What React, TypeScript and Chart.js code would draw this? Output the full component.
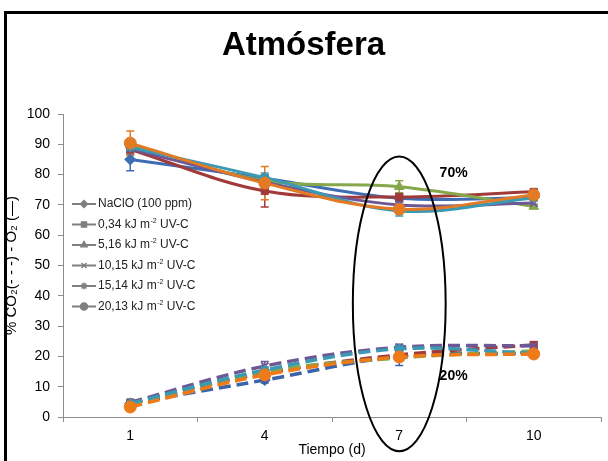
import React, { useEffect, useRef } from 'react';
import { Chart, registerables } from 'chart.js';
import { drawPoint } from 'chart.js/helpers';

Chart.register(...registerables);

// ---------------- data ----------------
const days = ['1', '4', '7', '10'];

const treatmentLabels = [
  'NaClO (100 ppm)',
  '0,34 kJ m^-2 UV-C',
  '5,16 kJ m^-2 UV-C',
  '10,15 kJ m^-2 UV-C',
  '15,14 kJ m^-2 UV-C',
  '20,13 kJ m^-2 UV-C',
];

// O2 (%) – solid lines
const o2NaClO = [85.0, 78.8, 72.2, 72.4];
const o2Uv034 = [88.3, 74.6, 72.6, 74.3];
const o2Uv516 = [90.0, 78.0, 76.0, 69.5];
const o2Uv1015 = [88.5, 77.5, 70.0, 70.6];
const o2Uv1514 = [89.0, 79.0, 68.0, 72.3];
const o2Uv2013 = [90.4, 77.2, 68.6, 73.3];

// O2 error bars (±)
const o2ErrNaClO = [3.7, 1.0, 1.0, 0.8];
const o2ErrUv034 = [1.5, 5.3, 1.2, 0.8];
const o2ErrUv516 = [1.5, 1.5, 2.0, 0.8];
const o2ErrUv1015 = [1.2, 1.5, 1.0, 0.8];
const o2ErrUv1514 = [1.2, 1.5, 1.7, 0.8];
const o2ErrUv2013 = [4.0, 5.5, 1.2, 0.8];

// CO2 (%) – dashed lines
const co2NaClO = [4.5, 12.2, 20.0, 21.0];
const co2Uv034 = [4.8, 14.5, 20.5, 23.8];
const co2Uv516 = [4.3, 15.0, 19.5, 21.8];
const co2Uv1015 = [4.8, 16.8, 23.0, 23.5];
const co2Uv1514 = [4.5, 15.5, 22.5, 21.0];
const co2Uv2013 = [3.3, 13.9, 19.8, 20.8];

// CO2 error bars (±)
const co2ErrNaClO = [0.5, 1.0, 3.0, 0.8];
const co2ErrUv034 = [0.8, 1.0, 1.0, 1.0];
const co2ErrUv516 = [0.5, 1.0, 1.0, 0.8];
const co2ErrUv1015 = [0.5, 1.5, 1.0, 1.0];
const co2ErrUv1514 = [0.5, 1.0, 1.2, 1.0];
const co2ErrUv2013 = [0.5, 1.0, 1.0, 0.8];

const yTicksMin = 0;
const yTicksMax = 100;
const yTicksStep = 10;

const annotation70 = '70%';
const annotation20 = '20%';

// ---------------- styles ----------------
const FONT = "'Liberation Sans', Arial, sans-serif";
const colors = ['#3f6db4', '#a13b3a', '#86a84a', '#6e5795', '#3a9ab4', '#e37a24'];
const dashColors = ['#3a64a8', '#a13b3a', '#86a84a', '#6e5795', '#3a9ab4', '#ee7a18'];
const pointStyles = ['rectRot', 'rect', 'triangle', 'crossRot', 'star', 'circle'];
const pointRadii = [5.5, 5, 5.5, 5, 5, 6];

const o2Series = [o2NaClO, o2Uv034, o2Uv516, o2Uv1015, o2Uv1514, o2Uv2013];
const o2Errors = [o2ErrNaClO, o2ErrUv034, o2ErrUv516, o2ErrUv1015, o2ErrUv1514, o2ErrUv2013];
const co2Series = [co2NaClO, co2Uv034, co2Uv516, co2Uv1015, co2Uv1514, co2Uv2013];
const co2Errors = [co2ErrNaClO, co2ErrUv034, co2ErrUv516, co2ErrUv1015, co2ErrUv1514, co2ErrUv2013];

function drawRichLabel(ctx: CanvasRenderingContext2D, text: string, x: number, y: number, size: number) {
  const parts = text.split('^');
  ctx.textBaseline = 'middle';
  ctx.textAlign = 'left';
  let cx = x;
  ctx.font = `${size}px ${FONT}`;
  ctx.fillText(parts[0], cx, y);
  cx += ctx.measureText(parts[0]).width;
  if (parts.length > 1) {
    const m = parts[1].match(/^(-?\d+)(.*)$/);
    const sup = m ? m[1] : '';
    const rest = m ? m[2] : parts[1];
    ctx.font = `${Math.round(size * 0.62)}px ${FONT}`;
    ctx.fillText(sup, cx + 0.5, y - size * 0.32);
    cx += ctx.measureText(sup).width + 0.5;
    ctx.font = `${size}px ${FONT}`;
    ctx.fillText(rest, cx, y);
  }
}

const decorPlugin = {
  id: 'decor',
  beforeDatasetsDraw(chart: any) {
    const { ctx } = chart;
    const xs = chart.scales.x;
    const ys = chart.scales.y;
    ctx.save();
    ctx.lineWidth = 1.5;
    const cap = 4;
    const drawErr = (vals: number[], errs: number[], color: string) => {
      ctx.strokeStyle = color;
      vals.forEach((v, i) => {
        const e = errs[i];
        if (!e) return;
        const px = xs.getPixelForValue(i);
        const top = ys.getPixelForValue(v + e);
        const bot = ys.getPixelForValue(v - e);
        ctx.beginPath();
        ctx.moveTo(px, top);
        ctx.lineTo(px, bot);
        ctx.moveTo(px - cap, top);
        ctx.lineTo(px + cap, top);
        ctx.moveTo(px - cap, bot);
        ctx.lineTo(px + cap, bot);
        ctx.stroke();
      });
    };
    o2Series.forEach((s, i) => drawErr(s, o2Errors[i], colors[i]));
    co2Series.forEach((s, i) => drawErr(s, co2Errors[i], dashColors[i]));
    ctx.restore();
  },
  afterDraw(chart: any) {
    const { ctx, chartArea } = chart;
    const xs = chart.scales.x;
    const ys = chart.scales.y;
    ctx.save();
    // legend
    const legLeft = chartArea.left + 9;
    treatmentLabels.forEach((lab, i) => {
      const y = chartArea.top + 90 + i * 20.5;
      ctx.strokeStyle = '#7f7f7f';
      ctx.lineWidth = 2;
      ctx.beginPath();
      ctx.moveTo(legLeft, y);
      ctx.lineTo(legLeft + 24, y);
      ctx.stroke();
      ctx.fillStyle = '#7f7f7f';
      ctx.strokeStyle = '#7f7f7f';
      ctx.lineWidth = 1.5;
      drawPoint(ctx, { pointStyle: pointStyles[i] as any, radius: 3.5, rotation: 0, borderWidth: 1.5 }, legLeft + 12, y);
      ctx.fillStyle = '#222';
      drawRichLabel(ctx, lab, legLeft + 26, y, 12);
    });
    // ellipse around day 7
    const cx = xs.getPixelForValue(2);
    const top = ys.getPixelForValue(86);
    const bot = ys.getPixelForValue(-11.3);
    const rx = (xs.getPixelForValue(3) - xs.getPixelForValue(2)) * 0.345;
    ctx.strokeStyle = '#000';
    ctx.lineWidth = 2;
    ctx.beginPath();
    ctx.ellipse(cx, (top + bot) / 2, rx, (bot - top) / 2, 0, 0, Math.PI * 2);
    ctx.stroke();
    // annotations
    ctx.fillStyle = '#000';
    ctx.font = `bold 14px ${FONT}`;
    ctx.textAlign = 'left';
    ctx.textBaseline = 'middle';
    const ax = xs.getPixelForValue(2) + (xs.getPixelForValue(3) - xs.getPixelForValue(2)) * 0.3;
    ctx.fillText(annotation70, ax, ys.getPixelForValue(80.5));
    ctx.fillText(annotation20, ax, ys.getPixelForValue(13.5));
    ctx.restore();
  },
};

export default function App() {
  const ref = useRef<HTMLCanvasElement | null>(null);
  useEffect(() => {
    document.body.style.margin = '0';
    const datasets: any[] = [];
    o2Series.forEach((s, i) => {
      datasets.push({
        label: 'O2 ' + treatmentLabels[i],
        data: s,
        borderColor: colors[i],
        backgroundColor: colors[i],
        borderWidth: 3,
        tension: 0.35,
        pointStyle: pointStyles[i],
        pointRadius: pointRadii[i],
        pointBorderWidth: pointStyles[i] === 'crossRot' || pointStyles[i] === 'star' ? 2 : 1,
        pointBackgroundColor: colors[i],
        pointBorderColor: colors[i],
        order: 10 - i,
      });
    });
    co2Series.forEach((s, i) => {
      datasets.push({
        label: 'CO2 ' + treatmentLabels[i],
        data: s,
        borderColor: dashColors[i],
        backgroundColor: dashColors[i],
        borderWidth: 3.5,
        borderDash: [12, 6],
        tension: 0.35,
        pointStyle: pointStyles[i],
        pointRadius: pointRadii[i],
        pointBorderWidth: pointStyles[i] === 'crossRot' || pointStyles[i] === 'star' ? 2 : 1,
        pointBackgroundColor: dashColors[i],
        pointBorderColor: dashColors[i],
        order: 20 - i,
      });
    });
    const chart = new Chart(ref.current as HTMLCanvasElement, {
      type: 'line',
      data: { labels: days, datasets },
      options: {
        animation: false,
        responsive: false,
        maintainAspectRatio: false,
        layout: { padding: { top: 0, left: 0, right: 1, bottom: 0 } },
        plugins: {
          legend: { display: false },
          tooltip: { enabled: false },
          title: {
            display: true,
            text: 'Atmósfera',
            color: '#000',
            font: { family: FONT, size: 33, weight: 'bold', lineHeight: 1.2 },
            padding: { top: 26, bottom: 48.4 },
          },
        },
        scales: {
          x: {
            type: 'category',
            offset: true,
            grid: { offset: true, drawOnChartArea: false, drawTicks: true, tickLength: 5, color: '#8c8c8c' },
            border: { color: '#8c8c8c', width: 1 },
            ticks: { color: '#000', font: { family: FONT, size: 14 }, padding: 6 },
            title: {
              display: true,
              text: 'Tiempo (d)',
              color: '#000',
              font: { family: FONT, size: 14 },
              padding: { top: 0, bottom: 2 },
            },
            afterFit: (s: any) => {
              s.height = 44;
            },
          },
          y: {
            min: yTicksMin,
            max: yTicksMax,
            grid: { drawOnChartArea: false, drawTicks: true, tickLength: 5, color: '#8c8c8c' },
            border: { color: '#8c8c8c', width: 1 },
            ticks: { stepSize: yTicksStep, color: '#000', font: { family: FONT, size: 14 }, padding: 8 },
            title: {
              display: true,
              text: '% CO₂(- - -) - O₂ (—)',
              color: '#000',
              font: { family: FONT, size: 15 },
              padding: { top: 3, bottom: 0 },
            },
            afterFit: (s: any) => {
              s.width = 63;
            },
          },
        },
      },
      plugins: [decorPlugin],
    } as any);
    return () => chart.destroy();
  }, []);
  return (
    <div style={{ position: 'relative', width: 608, height: 461, overflow: 'hidden', background: '#fff' }}>
      <div
        style={{
          position: 'absolute',
          left: 4,
          top: 11,
          width: 700,
          height: 600,
          borderLeft: '3px solid #000',
          borderTop: '3px solid #000',
        }}
      />
      <canvas ref={ref} width={608} height={461} style={{ position: 'absolute', left: 0, top: 0 }} />
    </div>
  );
}
